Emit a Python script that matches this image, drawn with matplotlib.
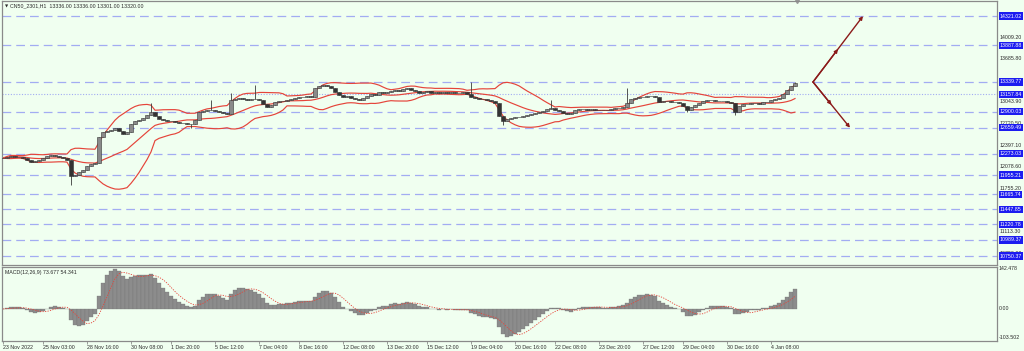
import numpy as np
import pandas as pd
import matplotlib
matplotlib.use('Agg')
import matplotlib.pyplot as plt
import matplotlib.transforms as mtransforms

# CN50_2301 H1 closes (one value per ~2 bars)
closes = [12209, 12224, 12238, 12231, 12224, 12209, 12179, 12149, 12164, 12179,
          12209, 12238, 12253, 12238, 12224, 12209, 12179, 11940, 11956, 12000,
          12030, 12090, 12119, 12134, 12521, 12596, 12611, 12625, 12655, 12611,
          12566, 12596, 12715, 12759, 12774, 12804, 12849, 12893, 12834, 12789,
          12774, 12759, 12759, 12744, 12730, 12730, 12715, 12715, 12774, 12893,
          12908, 12923, 12923, 12908, 12893, 12878, 12864, 13072, 13087, 13102,
          13087, 13072, 13087, 13087, 13072, 13012, 12968, 12997, 13042, 13057,
          13057, 13072, 13087, 13102, 13116, 13116, 13131, 13116, 13250, 13280,
          13295, 13280, 13250, 13191, 13146, 13116, 13131, 13102, 13087, 13072,
          13102, 13131, 13161, 13146, 13191, 13176, 13191, 13206, 13220, 13206,
          13235, 13250, 13220, 13206, 13176, 13191, 13206, 13176, 13191, 13176,
          13191, 13176, 13191, 13176, 13176, 13191, 13161, 13116, 13102, 13087,
          13087, 13072, 13057, 13027, 12834, 12759, 12789, 12804, 12819, 12819,
          12834, 12849, 12864, 12878, 12893, 12908, 12938, 12953, 12923, 12908,
          12878, 12864, 12878, 12923, 12938, 12938, 12923, 12938, 12923, 12923,
          12923, 12923, 12938, 12953, 12953, 12968, 13027, 13087, 13102, 13116,
          13116, 13131, 13131, 13116, 13042, 13057, 13057, 13042, 13042, 13027,
          12983, 12923, 12968, 12997, 13027, 13057, 13072, 13072, 13057, 13057,
          13057, 13042, 13027, 12893, 12983, 13012, 13012, 13027, 13027, 13012,
          13042, 13042, 13072, 13087, 13102, 13161, 13220, 13280, 13320]

# long wicks
spike_idx = [17, 37, 47, 52, 57, 63, 117, 125, 137, 156, 171, 183, 198]
spike_px = [11807, 13027, 12655, 13072, 13176, 13300, 13340, 12700, 13072, 13250, 12893, 12849, 13336]

# horizontal levels drawn on the chart
levels = [14321.02, 13887.88, 13339.77, 12900.03, 12659.49, 12273.03,
          11955.21, 11665.74, 11447.85, 11220.78, 10989.37, 10750.37]
dotted_level = 13157.84
price_ticks = [14009.20, 13685.80, 13364.40, 13043.90, 12720.50, 12397.10,
               12078.60, 11755.20, 11433.90, 11113.30, 10790.00]
macd_ticks = [142.478, 0.00, -103.502]

# projection arrows (bar index, price)
arrow_start = (202.5, 13339.77)
arrow_up = (215, 14321.02)
arrow_down = (211.75, 12659.49)

tick_idx = [0, 10, 21, 32, 42, 53, 64, 74, 85, 96, 106, 117, 128, 138, 149, 160, 170, 181, 192]
tick_lbl = ['23 Nov 2022', '25 Nov 03:00', '28 Nov 16:00', '30 Nov 08:00', '1 Dec 20:00',
            '5 Dec 12:00', '7 Dec 04:00', '8 Dec 16:00', '12 Dec 08:00', '13 Dec 20:00',
            '15 Dec 12:00', '19 Dec 04:00', '20 Dec 16:00', '22 Dec 08:00', '23 Dec 20:00',
            '27 Dec 12:00', '29 Dec 04:00', '30 Dec 16:00', '4 Jan 08:00']

bg = '#F0FFF0'
c = pd.Series(closes, dtype=float)
o = c.shift(1).fillna(c.iloc[0])
hi = np.maximum(o, c).values.copy()
lo = np.minimum(o, c).values.copy()
for i, v in zip(spike_idx, spike_px):
    if v > hi[i]:
        hi[i] = v
    elif v < lo[i]:
        lo[i] = v
x = np.arange(len(c))

# bollinger bands
mid = c.rolling(15, min_periods=1).mean()
sd = c.rolling(15, min_periods=1).std(ddof=0)
upper = mid + 2 * sd
lower = mid - 2 * sd

# MACD(12,26,9) on the half-resolution series
macd = c.ewm(span=6, adjust=False).mean() - c.ewm(span=13, adjust=False).mean()
signal = macd.rolling(5, min_periods=1).mean()

plt.rcParams['font.family'] = ['Liberation Sans', 'DejaVu Sans']
fs = 3.8
tc = '#2a2a2a'
fig = plt.figure(figsize=(10.24, 3.51), dpi=100, facecolor=bg)
ax = fig.add_axes([2/1024, 1-265/351, 995/1024, 264/351], facecolor=bg)
ax2 = fig.add_axes([2/1024, 1-341/351, 995/1024, 74/351], facecolor=bg)

ax.set_xlim(-0.25, 248.5)
ax.set_ylim(10616.6, 14545)
ax2.set_xlim(-0.25, 248.5)
ax2.set_ylim(-114.2, 149.6)

for a in (ax, ax2):
    for s in a.spines.values():
        s.set_color('#8a8a8a')
        s.set_linewidth(0.9)

# levels
for lv in levels:
    ax.axhline(lv, color='#a2acf2', lw=0.9, ls=(0, (7, 4)), zorder=1)
ax.axhline(dotted_level, color='#a2acf2', lw=0.8, ls=(0, (1, 1.5)), zorder=1)

# bands
for band in (upper, mid, lower):
    ax.plot(x, band, color='#e5443a', lw=0.85, zorder=2)

# candles
ax.vlines(x, lo, hi, color='#3a3a3a', lw=0.6, zorder=3)
up = c >= o
body = np.maximum(np.abs(c - o), 6)
ax.bar(x[up], body[up], bottom=np.minimum(o, c)[up], width=0.85,
       color='#8a8a8a', edgecolor='#333333', linewidth=0.4, zorder=4)
ax.bar(x[~up], body[~up], bottom=np.minimum(o, c)[~up], width=0.85,
       color='#333333', edgecolor='#333333', linewidth=0.4, zorder=4)

# arrows
ac = '#8b1a1a'
for end in (arrow_up, arrow_down):
    ax.annotate('', xy=end, xytext=arrow_start,
                arrowprops=dict(arrowstyle='-|>', color=ac, lw=1.0,
                                mutation_scale=5, shrinkA=0, shrinkB=0), zorder=5)
    mx = (arrow_start[0] + end[0]) / 2
    my = (arrow_start[1] + end[1]) / 2
    ax.annotate('', xy=(mx, my), xytext=arrow_start,
                arrowprops=dict(arrowstyle='-|>', color=ac, lw=1.0,
                                mutation_scale=5, shrinkA=0, shrinkB=0), zorder=5)

ax.set_xticks([])
ax.set_yticks([])

# right price scale
tr = mtransforms.blended_transform_factory(ax.transAxes, ax.transData)
for p in price_ticks:
    ax.text(1.003, p, '%.2f' % p, transform=tr, fontsize=fs, color=tc,
            va='center', ha='left', clip_on=False, zorder=6)
for lv in levels + [dotted_level]:
    ax.text(1.0028, lv, '%.2f' % lv, transform=tr, fontsize=fs, color='white',
            va='center', ha='left', clip_on=False, zorder=7,
            bbox=dict(boxstyle='square,pad=0.2', fc='#1c1cf0', ec='none'))

ax.text(0.0025, 0.988, '\u25bc', transform=ax.transAxes, fontsize=3, color=tc,
        va='top', ha='left', family='DejaVu Sans')
ax.text(0.008, 0.99, 'CN50_2301,H1  13336.00 13336.00 13301.00 13320.00',
        transform=ax.transAxes, fontsize=fs, color=tc, va='top', ha='left')
ax.plot([len(c) - 0.5], [1.0], marker='v', ms=3, color='#999999',
        transform=mtransforms.blended_transform_factory(ax.transData, ax.transAxes),
        clip_on=False)

# MACD panel
ax2.bar(x, macd, width=1.0, color='#8c8c8c', edgecolor='#707070', linewidth=0.2)
ax2.plot(x, signal, color='#e5443a', lw=0.6, ls=(0, (1.5, 1.5)))
ax2.text(0.003, 0.96, 'MACD(12,26,9) 73.677 54.341', transform=ax2.transAxes,
         fontsize=fs, color=tc, va='top', ha='left')
tr2 = mtransforms.blended_transform_factory(ax2.transAxes, ax2.transData)
for m in macd_ticks:
    lbl = '0.00' if m == 0 else '%.3f' % m
    ax2.text(1.002, m, lbl, transform=tr2, fontsize=fs, color=tc,
             va='center', ha='left', clip_on=False)
ax2.set_yticks([])
ax2.set_xticks(tick_idx)
ax2.set_xticklabels(tick_lbl, fontsize=fs, color=tc)
for t in ax2.get_xticklabels():
    t.set_ha('left')
ax2.tick_params(axis='x', length=2, width=0.5, color='#777777', pad=1)

plt.savefig('out.png', dpi=100, facecolor=bg)
